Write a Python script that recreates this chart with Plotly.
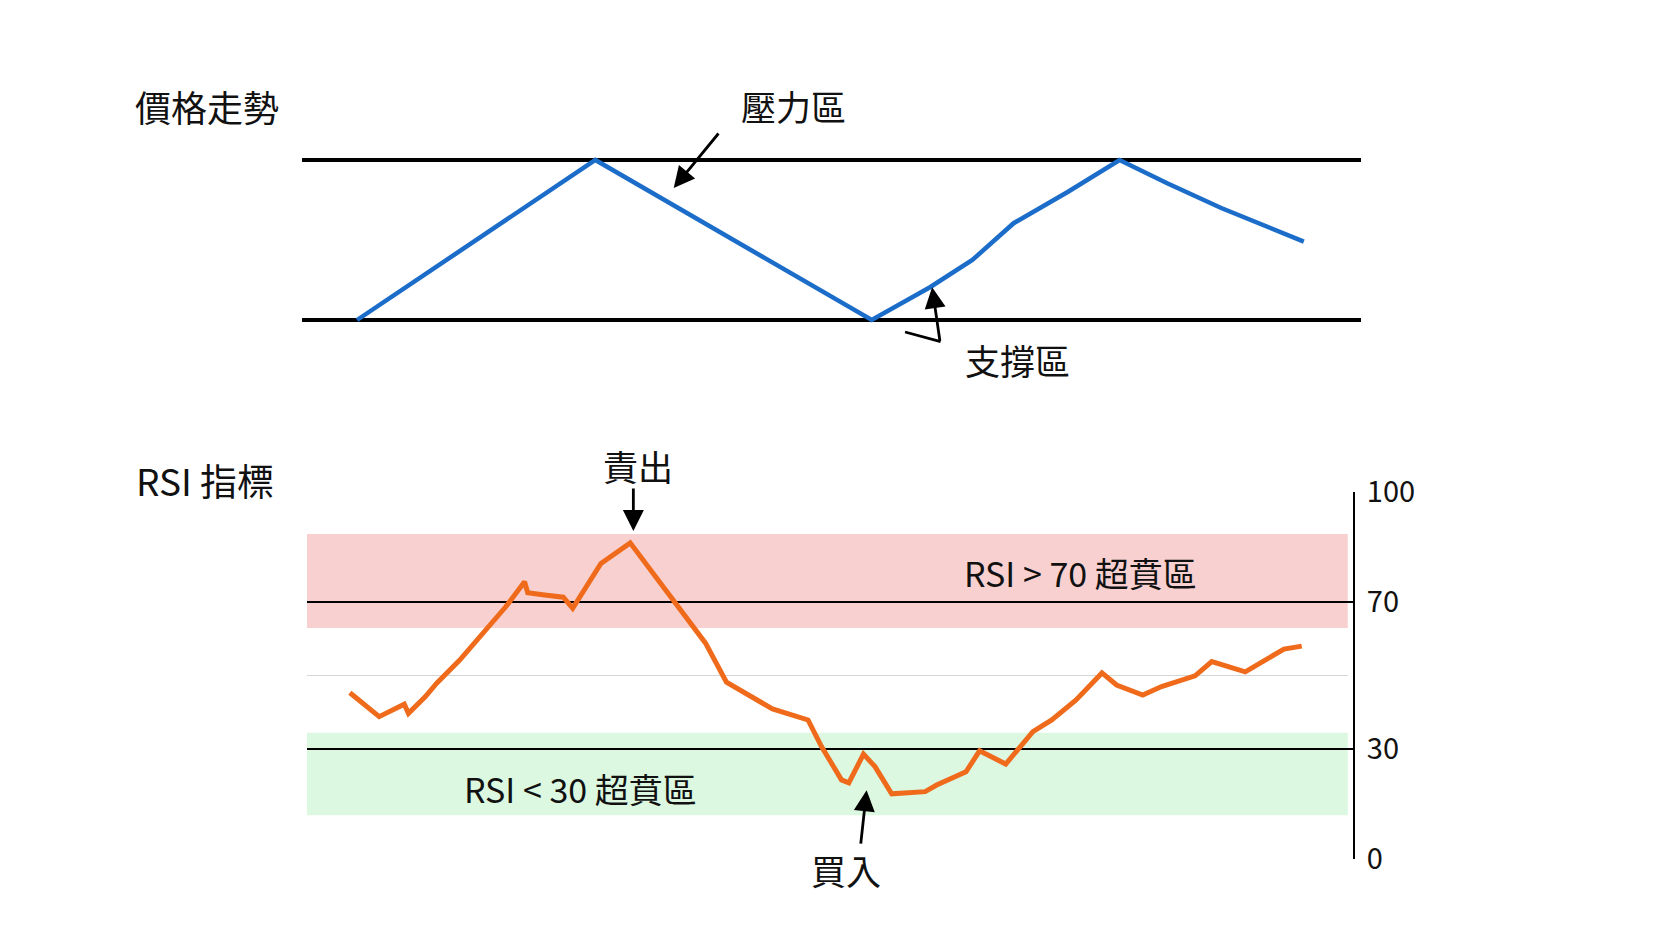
import plotly.graph_objects as go

W, H = 1666, 937

# ---------------- data ----------------
# top panel: price path (time index 0-100, price)
price_t = [5.2, 27.7, 53.8, 59.3, 63.3, 67.2, 72.3, 77.2, 81.7, 86.8, 94.6]
price_v = [100.0, 120.0, 100.0, 104.1, 107.5, 112.1, 116.0, 120.0, 117.1, 114.0, 109.8]
support_level = 100
resistance_level = 120

# bottom panel: RSI path
rsi_t = [4.1, 6.9, 9.3, 9.7, 11.3, 12.4, 14.6, 16.8, 19.0, 20.8, 21.1, 22.7, 24.5, 25.4,
         26.3, 28.1, 30.9, 33.1, 35.7, 38.1, 40.1, 41.9, 44.5, 46.1, 47.9, 49.2, 51.1,
         51.8, 53.2, 54.3, 55.9, 59.1, 60.2, 63.0, 64.3, 66.8, 69.4, 71.2, 73.5, 76.0,
         77.4, 79.9, 81.7, 84.9, 86.5, 89.7, 93.4, 95.1]
rsi_v = [45.3, 38.8, 42.2, 39.7, 44.2, 47.9, 54.2, 61.5, 68.7, 75.5, 72.5, 71.9, 71.3, 68.3,
         72.4, 80.5, 86.1, 77.6, 68.1, 58.8, 48.2, 45.2, 40.9, 39.5, 37.9, 30.6, 21.6,
         20.8, 28.6, 25.2, 17.8, 18.4, 20.2, 23.8, 29.5, 25.9, 34.7, 37.9, 43.3, 50.7,
         47.4, 44.7, 47.0, 49.9, 53.8, 51.0, 57.2, 58.0]
overbought = 70
oversold = 30
midline = 50
overbought_band = [62.9, 88.5]
oversold_band = [12.0, 34.4]
band_t_end = 99.5
rsi_ticks = [0, 30, 70, 100]
rsi_ticktext = ["0", "30", "70", "100"]

# ---------------- helpers (pixel -> paper) ----------------
def pxx(x):
    return x / W

def pxy(y):
    return 1 - y / H

FONT = "Noto Sans CJK TC, Noto Sans, sans-serif"
BLUE = "#1b6dc9"
ORANGE = "#ef6b1b"
TXT = "#111111"

fig = go.Figure()

fig.add_trace(go.Scatter(x=price_t, y=price_v, mode="lines",
                         line=dict(color=BLUE, width=4.5), xaxis="x", yaxis="y",
                         showlegend=False, hoverinfo="skip"))
fig.add_trace(go.Scatter(x=rsi_t, y=rsi_v, mode="lines",
                         line=dict(color=ORANGE, width=5), xaxis="x2", yaxis="y2",
                         showlegend=False, hoverinfo="skip"))

shapes = []
# support / resistance lines
for lvl in (support_level, resistance_level):
    shapes.append(dict(type="line", xref="x", yref="y", x0=0, x1=100, y0=lvl, y1=lvl,
                       line=dict(color="#000000", width=4), layer="below"))
# RSI bands
shapes.append(dict(type="rect", xref="x2", yref="y2", x0=0, x1=band_t_end,
                   y0=overbought_band[0], y1=overbought_band[1],
                   fillcolor="#f8d0d0", line=dict(width=0), layer="below"))
shapes.append(dict(type="rect", xref="x2", yref="y2", x0=0, x1=band_t_end,
                   y0=oversold_band[0], y1=oversold_band[1],
                   fillcolor="#dcf8e0", line=dict(width=0), layer="below"))
shapes.append(dict(type="line", xref="x2", yref="y2", x0=0, x1=band_t_end,
                   y0=midline, y1=midline, line=dict(color="#d6d6d6", width=1.2), layer="below"))
for lvl in (overbought, oversold):
    shapes.append(dict(type="line", xref="x2", yref="y2", x0=0, x1=100, y0=lvl, y1=lvl,
                       line=dict(color="#000000", width=1.8), layer="below"))

ann = []
def label(text, x, y, size, xanchor="center"):
    ann.append(dict(text=text, x=pxx(x), y=pxy(y), xref="paper", yref="paper",
                    xanchor=xanchor, yanchor="middle", showarrow=False,
                    font=dict(family=FONT, size=size, color=TXT)))

label("價格走勢", 133, 106, 36, "left")
label("RSI 指標", 134, 480, 37, "left")
label("壓力區", 793, 106, 35)
label("支撐區", 1017, 359, 35)
label("責出", 638, 465, 35)
label("買入", 846, 869, 35)
label("RSI > 70 超賁區", 1080, 572, 34)
label("RSI < 30 超賁區", 580, 788, 34)

def arrow(x, y, ax, ay, xr, yr, head=2):
    ann.append(dict(text="", x=x, y=y, xref=xr, yref=yr, ax=ax, ay=ay,
                    showarrow=True, arrowhead=head, arrowsize=1.5, arrowwidth=2.8,
                    arrowcolor="#000000"))

# 壓力區 arrow
arrow(35.1, 116.5, 46, -56, "x", "y")
# 支撐區 arrow (bent)
arrow(59.5, 104.1, 8, 55, "x", "y")
arrow(60.3, 97.3, -37, -10, "x", "y", head=0)
# 責出 arrow
arrow(31.2, 89.3, 0, -44, "x2", "y2")
# 買入 arrow
arrow(53.5, 18.8, -6, 55, "x2", "y2")

top_dom = [pxy(360), pxy(120)]
bot_dom = [pxy(859.25), pxy(491.75)]

fig.update_layout(
    width=W, height=H, autosize=False,
    margin=dict(l=0, r=0, t=0, b=0, pad=0, autoexpand=False),
    paper_bgcolor="white", plot_bgcolor="white",
    showlegend=False,
    shapes=shapes, annotations=ann,
    xaxis=dict(domain=[pxx(302), pxx(1361)], range=[0, 100], visible=False,
               anchor="y", automargin=False),
    yaxis=dict(domain=top_dom, range=[95, 125], visible=False, anchor="x", automargin=False),
    xaxis2=dict(domain=[pxx(307), pxx(1353)], range=[0, 100], visible=False,
                anchor="y2", automargin=False),
    yaxis2=dict(domain=bot_dom, range=[0, 100], anchor="x2", side="right",
                automargin=False,
                showline=True, linecolor="#000000", linewidth=2,
                ticks="inside", ticklen=9, tickwidth=2, tickcolor="#000000",
                tickvals=rsi_ticks, ticktext=rsi_ticktext, ticklabelstandoff=6,
                tickfont=dict(family=FONT, size=29, color=TXT),
                showgrid=False, zeroline=False),
)

fig.write_html("out.html")
